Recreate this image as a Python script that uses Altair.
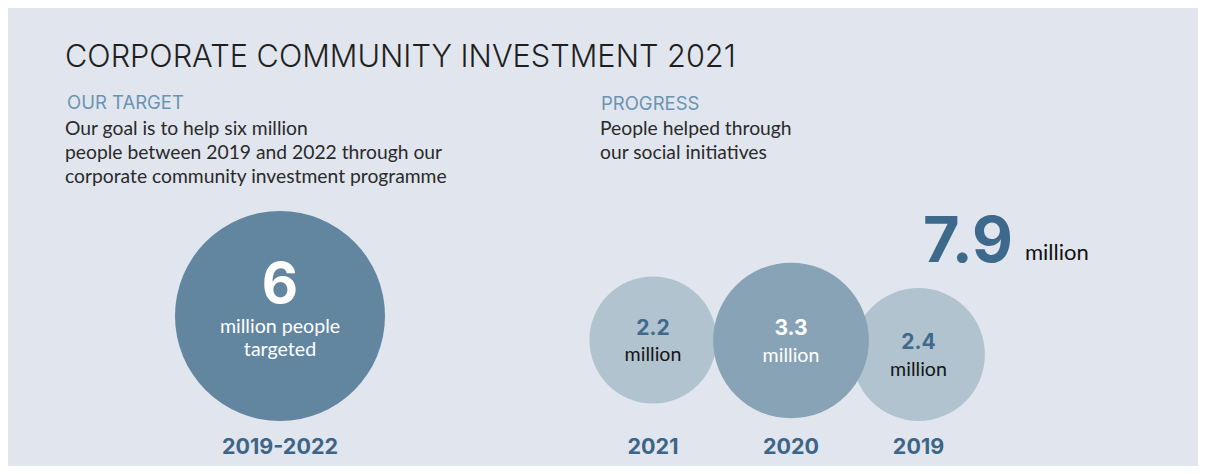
import altair as alt
import pandas as pd

# ---- data ----
circle_labels = ["2019-2022", "2021", "2020", "2019"]
circle_values = [6.0, 2.2, 3.3, 2.4]
value_texts = ["6", "2.2", "3.3", "2.4"]
total_progress = "7.9"

title_text = "CORPORATE COMMUNITY INVESTMENT 2021"
target_heading = "OUR TARGET"
target_lines = ["Our goal is to help six million",
                "people between 2019 and 2022 through our",
                "corporate community investment programme"]
progress_heading = "PROGRESS"
progress_lines = ["People helped through", "our social initiatives"]

# ---- layout / style ----
W, H = 1190, 458
BG = "#E1E6EE"
x_centers = [272, 645, 783, 910.5]
y_centers = [308, 332, 332.5, 346.5]
circle_colors = ["#6286A0", "#B0C3CF", "#88A3B5", "#B0C3CF"]
num_colors = ["#FFFFFF", "#41698B", "#FFFFFF", "#41698B"]
sub_colors = ["#FFFFFF", "#151515", "#FFFFFF", "#151515"]
draw_order = [0, 1, 3, 2]
BLUE = "#3D6587"
HEAD = "#6A94B3"
BODY = "#2A2A2A"

df = pd.DataFrame({
    "label": circle_labels,
    "value": circle_values,
    "vtext": value_texts,
    "cx": x_centers,
    "cy": y_centers,
    "ncol": num_colors,
    "scol": sub_colors,
    "order": draw_order,
})

X = alt.X("cx:Q", scale=alt.Scale(domain=[0, W], range=[0, W], nice=False, zero=False), axis=None)
Y = alt.Y("cy:Q", scale=alt.Scale(domain=[0, H], range=[0, H], nice=False, zero=False), axis=None)

base = alt.Chart(df)

circles = base.mark_circle(opacity=1).encode(
    x=X, y=Y,
    size=alt.Size("value:Q", scale=alt.Scale(type="linear", domain=[0, 6], range=[0, 44100]), legend=None),
    color=alt.Color("label:N", scale=alt.Scale(domain=circle_labels, range=circle_colors), legend=None),
    order=alt.Order("order:Q"),
)

first = alt.datum.label == circle_labels[0]
rest = alt.datum.label != circle_labels[0]

big_num = base.transform_filter(first).mark_text(
    font="Inter", fontWeight=700, fontSize=56, baseline="alphabetic", align="center", dy=-13
).encode(x=X, y=Y, text="vtext:N", color=alt.Color("ncol:N", scale=None))

big_sub = base.transform_filter(first).mark_text(
    font="Lato", fontSize=19.6, baseline="alphabetic", align="center", dy=16.5, lineHeight=23.5, color="#FFFFFF"
).encode(x=X, y=Y, text=alt.value(["million people", "targeted"]))

small_num = base.transform_filter(rest).mark_text(
    font="Inter", fontWeight=700, fontSize=21, baseline="alphabetic", align="center", dy=-5.5
).encode(x=X, y=Y, text="vtext:N", color=alt.Color("ncol:N", scale=None))

small_sub = base.transform_filter(rest).mark_text(
    font="Lato", fontSize=19.6, baseline="alphabetic", align="center", dy=21
).encode(x=X, y=Y, text=alt.value("million"), color=alt.Color("scol:N", scale=None))

year_labels = base.mark_text(
    font="Inter", fontWeight=700, fontSize=21.5, baseline="alphabetic", align="center", color=BLUE
).encode(x=X, y=alt.value(446), text="label:N")


def txt(s, x, y, size, color, font="Lato", weight=400, line_height=None):
    kw = dict(font=font, fontSize=size, fontWeight=weight, color=color,
              align="left", baseline="alphabetic")
    if line_height:
        kw["lineHeight"] = line_height
    return alt.Chart(df).transform_filter(first).mark_text(**kw).encode(
        x=alt.value(x), y=alt.value(y), text=alt.value(s))


title = txt(title_text, 57, 59, 30.7, "#1F1F1F", font="Inter", weight=300)
h1 = txt(target_heading, 59, 101, 18.5, HEAD, font="Inter")
b1 = txt(target_lines, 57, 127, 19.3, BODY, line_height=24)
h2 = txt(progress_heading, 593, 102, 18.5, HEAD, font="Inter")
b2 = txt(progress_lines, 592, 127, 19.3, BODY, line_height=23.5)
total = txt(total_progress, 915, 254, 63, "#3D6A8C", font="Inter", weight=700)
total_unit = txt("million", 1017, 252, 22, "#111111")

chart = alt.layer(
    circles, big_num, big_sub, small_num, small_sub, year_labels,
    title, h1, b1, h2, b2, total, total_unit,
).properties(
    width=W, height=H, background=BG, padding=0,
    autosize=alt.AutoSizeParams(type="none"),
).configure_view(stroke=None)

chart.save("out.html", embed_options={"renderer": "svg", "actions": False})
